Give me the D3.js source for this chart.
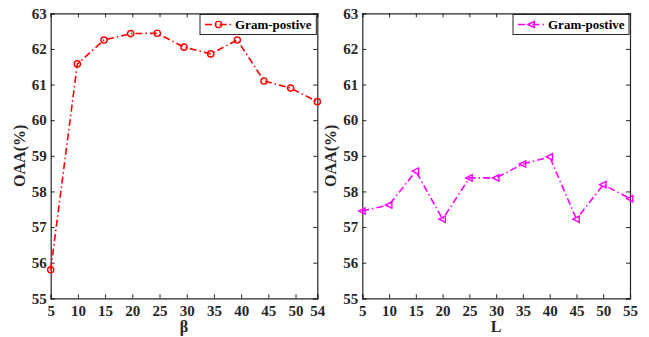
<!DOCTYPE html>
<html><head><meta charset="utf-8">
<script src="https://cdn.jsdelivr.net/npm/d3@7"></script>
<style>body{margin:0;background:#fff;} svg{display:block;}</style>
</head><body>
<svg id="c" width="649" height="337"></svg>
<script>
// Left panel data (beta)
const betaX = [5, 9.9, 14.8, 19.7, 24.6, 29.5, 34.4, 39.3, 44.2, 49.1, 54];
const betaY = [55.8, 61.58, 62.25, 62.43, 62.44, 62.05, 61.86, 62.25, 61.1, 60.9, 60.52];
const betaTicks = [5, 10, 15, 20, 25, 30, 35, 40, 45, 50, 54];
// Right panel data (L)
const lX = [5, 10, 15, 20, 25, 30, 35, 40, 45, 50, 55];
const lY = [57.45, 57.62, 58.57, 57.22, 58.38, 58.38, 58.77, 58.97, 57.22, 58.19, 57.8];
const lTicks = [5, 10, 15, 20, 25, 30, 35, 40, 45, 50, 55];
const yTicks = [55, 56, 57, 58, 59, 60, 61, 62, 63];
const seriesName = "Gram-postive";

const svg = d3.select("#c");
const font = "'Liberation Serif','Times New Roman',serif";
const plotTop = 13.3, plotBottom = 298.3;

function panel(opt) {
  const x = d3.scaleLinear().domain(opt.xDomain).range([opt.left, opt.right]);
  const y = d3.scaleLinear().domain([55, 63]).range([plotBottom, plotTop]);
  const g = svg.append("g");
  const tl = 4;
  const xb = d3.axisBottom(x).tickValues(opt.xTicks).tickSize(-tl).tickPadding(7).tickFormat(d3.format("d"));
  const xt = d3.axisTop(x).tickValues(opt.xTicks).tickSize(-tl).tickFormat("");
  const yl = d3.axisLeft(y).tickValues(yTicks).tickSize(-tl).tickPadding(4).tickFormat(d3.format("d"));
  const yr = d3.axisRight(y).tickValues(yTicks).tickSize(-tl).tickFormat("");
  const axes = [
    g.append("g").attr("transform", `translate(0,${plotBottom})`).call(xb),
    g.append("g").attr("transform", `translate(0,${plotTop})`).call(xt),
    g.append("g").attr("transform", `translate(${opt.left},0)`).call(yl),
    g.append("g").attr("transform", `translate(${opt.right},0)`).call(yr)
  ];
  axes.forEach(a => {
    a.select(".domain").attr("stroke", "#262626").attr("stroke-width", 1.2);
    a.selectAll(".tick line").attr("stroke", "#262626").attr("stroke-width", 1);
    a.selectAll("text").attr("font-family", font).attr("font-weight", "bold")
      .attr("font-size", 15).attr("fill", "#262626");
  });
  const pts = opt.xs.map((v, i) => [v, opt.ys[i]]);
  g.append("path").datum(pts)
    .attr("d", d3.line().x(d => x(d[0])).y(d => y(d[1])))
    .attr("fill", "none").attr("stroke", opt.color).attr("stroke-width", 1.6)
    .attr("stroke-dasharray", "7,3,1.5,3");
  g.selectAll(".m").data(pts).enter().append("path")
    .attr("transform", d => `translate(${x(d[0])},${y(d[1])})`)
    .attr("d", opt.marker)
    .attr("fill", "none").attr("stroke", opt.color).attr("stroke-width", 1.4);
  g.append("text").attr("transform", `translate(${opt.left - 26},${(plotTop + plotBottom) / 2}) rotate(-90)`)
    .attr("text-anchor", "middle").attr("font-family", font).attr("font-weight", "bold")
    .attr("font-size", 16).attr("fill", "#262626").text("OAA(%)");
  g.append("text").attr("x", (opt.left + opt.right) / 2).attr("y", 332)
    .attr("text-anchor", "middle").attr("font-family", font).attr("font-weight", "bold")
    .attr("font-size", 16).attr("fill", "#262626").text(opt.xLabel);
  const lg = g.append("g");
  lg.append("rect").attr("x", opt.legX).attr("y", 14.5).attr("width", opt.right - 1 - opt.legX).attr("height", 20)
    .attr("fill", "#fff").attr("stroke", "#262626").attr("stroke-width", 1);
  lg.append("line").attr("x1", opt.legX + 5).attr("x2", opt.legX + 32).attr("y1", 24.5).attr("y2", 24.5)
    .attr("stroke", opt.color).attr("stroke-width", 1.6).attr("stroke-dasharray", "7,3,1.5,3");
  lg.append("path").attr("transform", `translate(${opt.legX + 18.5},24.5)`).attr("d", opt.marker)
    .attr("fill", "none").attr("stroke", opt.color).attr("stroke-width", 1.4);
  lg.append("text").attr("x", opt.legX + 35).attr("y", 29).attr("font-family", font).attr("font-weight", "bold")
    .attr("font-size", 13).attr("fill", "#000").text(seriesName);
}

const circle = d3.symbol().type(d3.symbolCircle).size(30)();
const triLeft = "M-3.6,0L2.8,-3.2L2.8,3.2Z";

panel({left: 50.7, right: 317.3, xDomain: [5, 54], xTicks: betaTicks, xs: betaX, ys: betaY,
  color: "#ff0000", marker: circle, xLabel: "β", legX: 200});
panel({left: 362.3, right: 630, xDomain: [5, 55], xTicks: lTicks, xs: lX, ys: lY,
  color: "#ff00ff", marker: triLeft, xLabel: "L", legX: 513});
</script>
</body></html>
